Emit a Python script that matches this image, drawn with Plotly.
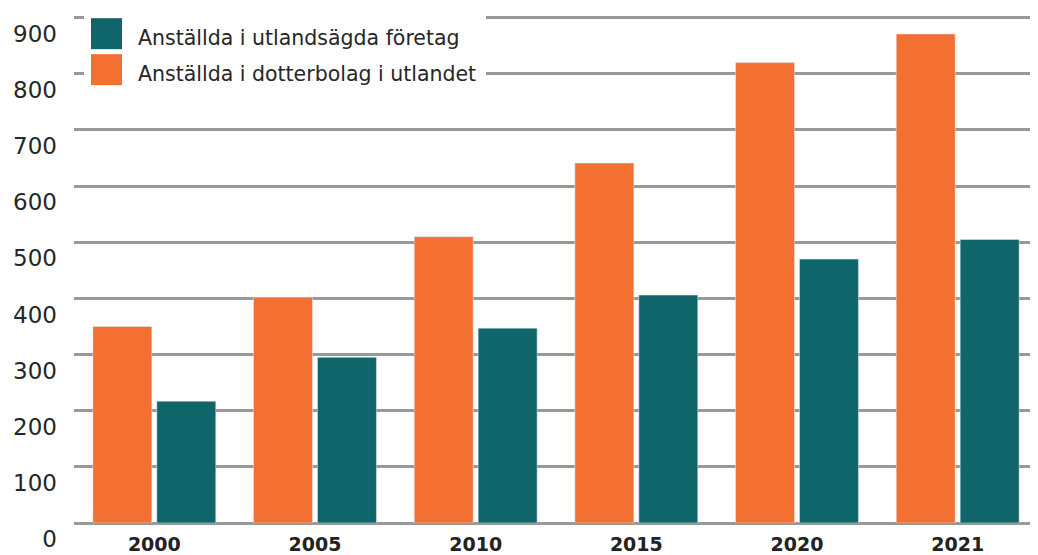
import plotly.graph_objects as go

years = ["2000", "2005", "2010", "2015", "2020", "2021"]
dotterbolag = [350, 402, 510, 641, 820, 871]
utlandsagda = [217, 295, 347, 406, 470, 505]
series_names = ["Anställda i utlandsägda företag", "Anställda i dotterbolag i utlandet"]
y_ticks = [0, 100, 200, 300, 400, 500, 600, 700, 800, 900]

ORANGE = "#F37032"
TEAL = "#10656B"
FONT = "DejaVu Sans"

OFF = 8  # page body margin
YMAX = 903
W, H = 1038 - OFF, 555 - OFF
ML, MR, MB = 74 - OFF, 0, 32
MT = 17.5 - (YMAX - 900) * 0.5613 - OFF
PW, PH = W - ML - MR, H - MT - MB

fig = go.Figure()
fig.add_trace(go.Bar(x=years, y=dotterbolag, name=series_names[1], marker_color=ORANGE,
                     showlegend=False))
fig.add_trace(go.Bar(x=years, y=utlandsagda, name=series_names[0], marker_color=TEAL,
                     showlegend=False))

def px2paper(x, y):
    # x, y in screenshot pixels
    return (x - OFF - ML) / PW, (H - MB - (y - OFF)) / PH

shapes = []
annotations = []
x0, y0 = px2paper(84, 8)
x1, y1 = px2paper(486, 90)
shapes.append(dict(type="rect", xref="paper", yref="paper", x0=x0, y0=y1, x1=x1, y1=y0,
                   fillcolor="white", line_width=0, layer="above"))
for name, col, top in [(series_names[0], TEAL, 18), (series_names[1], ORANGE, 54)]:
    a0, b0 = px2paper(91, top)
    a1, b1 = px2paper(122, top + 31)
    shapes.append(dict(type="rect", xref="paper", yref="paper", x0=a0, y0=b1, x1=a1, y1=b0,
                       fillcolor=col, line_width=0, layer="above"))
    tx, ty = px2paper(136, top + 20)
    annotations.append(dict(text=name, xref="paper", yref="paper", x=tx, y=ty,
                            xanchor="left", yanchor="middle", showarrow=False,
                            font=dict(size=20.5, color="#262626", family=FONT)))

fig.update_layout(
    width=W, height=H,
    margin=dict(l=ML, r=MR, t=MT, b=MB, autoexpand=False),
    paper_bgcolor="white", plot_bgcolor="white",
    barmode="group", bargap=0.204, bargroupgap=0.078,
    shapes=shapes, annotations=annotations,
    font=dict(family=FONT, color="#262626"),
)
fig.update_xaxes(showgrid=False, showline=False, ticks="", automargin=False,
                 ticklabelstandoff=8, ticklabeloverflow="allow",
                 tickfont=dict(size=19, family=FONT, color="#222", weight="bold"),
                 range=[-0.5, 5.5])
fig.update_yaxes(range=[0, YMAX], tickvals=y_ticks, showgrid=True, gridcolor="#999999",
                 gridwidth=2.5, zeroline=True, zerolinecolor="#999999", zerolinewidth=3,
                 showline=False, ticks="", ticklabelstandoff=16, automargin=False,
                 ticklabelposition="outside bottom", ticklabeloverflow="allow",
                 tickfont=dict(size=23, family=FONT, color="#262626"))

fig.write_html("out.html")
